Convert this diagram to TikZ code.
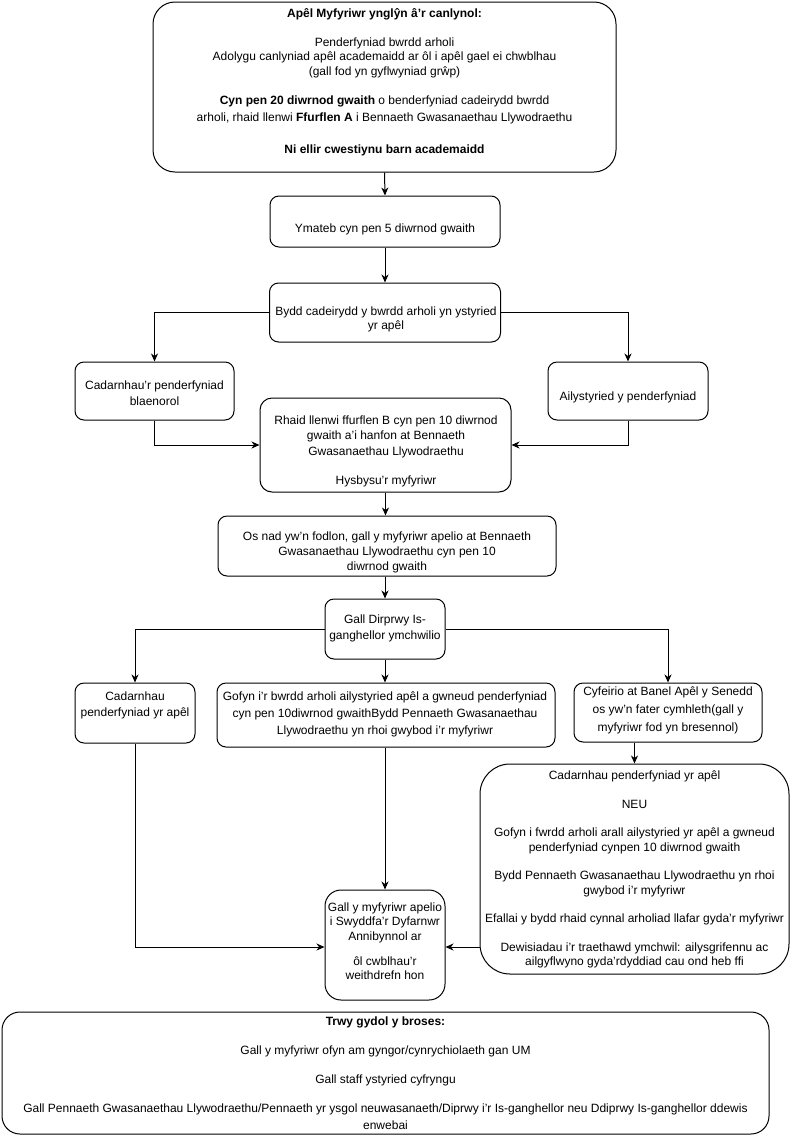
\documentclass[tikz,border=0pt]{standalone}
\usepackage{fontspec}
\setmainfont{Liberation Sans}
\usetikzlibrary{arrows.meta}
\begin{document}
\begin{tikzpicture}[x=1pt,y=-1pt,
  box/.style={draw, line width=1pt, rounded corners=9pt, inner sep=0pt},
  txt/.style={align=center, inner sep=0pt, font=\fontsize{12}{14.5}\selectfont},
  arr/.style={draw, line width=1pt, -{Stealth[length=8pt,width=7pt,inset=2.5pt]}}]
\useasboundingbox (0,0) rectangle (790,1136);

% boxes
\node[box, rounded corners=22pt, minimum width=463pt, minimum height=170pt] (appeal) at (384.5,87) {};
\node[box, minimum width=230pt, minimum height=51pt] (respond) at (385,221.5) {};
\node[box, minimum width=231pt, minimum height=59pt] (consider) at (385,312.5) {};
\node[box, minimum width=159pt, minimum height=58pt] (confirm) at (154.5,391) {};
\node[box, minimum width=160pt, minimum height=58pt] (recon) at (628,391) {};
\node[box, rounded corners=12pt, minimum width=251pt, minimum height=94pt] (formb) at (385.5,445) {};
\node[box, minimum width=338pt, minimum height=60pt] (notsat) at (387,546) {};
\node[box, minimum width=120pt, minimum height=60pt] (dvc) at (385,629) {};
\node[box, minimum width=120pt, minimum height=60pt] (confirmb) at (135,713) {};
\node[box, minimum width=338pt, minimum height=64pt] (ask) at (386,715) {};
\node[box, minimum width=188pt, minimum height=59pt] (refer) at (668,712.5) {};
\node[box, rounded corners=30pt, minimum width=309pt, minimum height=210pt] (outcome) at (634.5,869) {};
\node[box, rounded corners=16pt, minimum width=120pt, minimum height=110pt] (oia) at (385,945) {};
\node[box, rounded corners=18pt, minimum width=767pt, minimum height=122pt] (through) at (385.5,1073) {};

% texts
\node[txt] (appealtxt) at (384.5,82) {\textbf{Apêl Myfyriwr ynglŷn â’r canlynol:}\\[14.5pt]
Penderfyniad bwrdd arholi\\
Adolygu canlyniad apêl academaidd ar ôl i apêl gael ei chwblhau\\
(gall fod yn gyflwyniad grŵp)\\[14.5pt]
\textbf{Cyn pen 20 diwrnod gwaith} o benderfyniad cadeirydd bwrdd\\[2.5pt]
arholi, rhaid llenwi \textbf{Ffurflen A} i Bennaeth Gwasanaethau Llywodraethu\\[17.5pt]
\textbf{Ni ellir cwestiynu barn academaidd}};
\node[txt] (respondtxt) at (385,229) {Ymateb cyn pen 5 diwrnod gwaith};
\node[txt] (considertxt) at (386,319.5) {Bydd cadeirydd y bwrdd arholi yn ystyried\\ yr apêl};
\node[txt, font=\fontsize{12}{16}\selectfont] (confirmtxt) at (154.5,393) {Cadarnhau’r penderfyniad\\ blaenorol};
\node[txt] (recontxt) at (628,397) {Ailystyried y penderfyniad};
\node[txt, font=\fontsize{12}{15.5}\selectfont] (formbtxt) at (386,451.5) {Rhaid llenwi ffurflen B cyn pen 10 diwrnod\\ gwaith a’i hanfon at Bennaeth\\ Gwasanaethau Llywodraethu\\[14pt] Hysbysu’r myfyriwr};
\node[txt, font=\fontsize{12}{15}\selectfont] (notsattxt) at (387,552) {Os nad yw’n fodlon, gall y myfyriwr apelio at Bennaeth\\ Gwasanaethau Llywodraethu cyn pen 10\\ diwrnod gwaith};
\node[txt, font=\fontsize{12}{16}\selectfont] (dvctxt) at (385,628) {Gall Dirprwy Is-\\ganghellor ymchwilio};
\node[txt, font=\fontsize{12}{16}\selectfont] (confirmbtxt) at (135,705) {Cadarnhau\\ penderfyniad yr apêl};
\node[txt, font=\fontsize{12}{17}\selectfont] (asktxt) at (385,714) {Gofyn i’r bwrdd arholi ailystyried apêl a gwneud penderfyniad\\ cyn pen 10diwrnod gwaithBydd Pennaeth Gwasanaethau\\ Llywodraethu yn rhoi gwybod i’r myfyriwr};
\node[txt, font=\fontsize{12}{18}\selectfont] (refertxt) at (668,710) {Cyfeirio at Banel Apêl y Senedd\\ os yw’n fater cymhleth(gall y\\ myfyriwr fod yn bresennol)};
\node[txt] (outcometxt) at (634.5,869.5) {Cadarnhau penderfyniad yr apêl\\[14pt]
NEU\\[14pt]
Gofyn i fwrdd arholi arall ailystyried yr apêl a gwneud\\ penderfyniad cynpen 10 diwrnod gwaith\\[14pt]
Bydd Pennaeth Gwasanaethau Llywodraethu yn rhoi\\ gwybod i’r myfyriwr\\[14pt]
Efallai y bydd rhaid cynnal arholiad llafar gyda’r myfyriwr\\[14pt]
Dewisiadau i’r traethawd ymchwil: ailysgrifennu ac\\ ailgyflwyno gyda’rdyddiad cau ond heb ffi};
\node[txt] (oiatxt) at (385,941) {Gall y myfyriwr apelio\\ i Swyddfa’r Dyfarnwr\\ Annibynnol ar\\[10.5pt] ôl cwblhau’r\\ weithdrefn hon};
\node[txt, font=\fontsize{12}{15}\selectfont] (throughtxt) at (385.5,1073.5) {\textbf{Trwy gydol y broses:}\\[14pt]
Gall y myfyriwr ofyn am gyngor/cynrychiolaeth gan UM\\[14pt]
Gall staff ystyried cyfryngu\\[14pt]
Gall Pennaeth Gwasanaethau Llywodraethu/Pennaeth yr ysgol neuwasanaeth/Diprwy i’r Is-ganghellor neu Ddiprwy Is-ganghellor ddewis\\[2pt]
enwebai};

% connectors
\draw[arr] (appeal.south) -- (respond.north);
\draw[arr] (respond.south) -- (consider.north);
\draw[arr] (consider.west) -| (confirm.north);
\draw[arr] (consider.east) -| (recon.north);
\draw[arr] (confirm.south) |- (formb.west);
\draw[arr] (recon.south) |- (formb.east);
\draw[arr] (formb.south) -- (notsat.north -| formb.south);
\draw[arr] (notsat.south -| dvc.north) -- (dvc.north);
\draw[arr] (dvc.west) -| (confirmb.north);
\draw[arr] (dvc.south) -- (ask.north -| dvc.south);
\draw[arr] (dvc.east) -| (refer.north);
\draw[arr] (refer.south -| outcome.north) -- (outcome.north);
\draw[arr] (ask.south -| oia.north) -- (oia.north);
\draw[arr] (confirmb.south) |- ([yshift=-2pt]oia.west);
\draw[arr] ([yshift=-2pt]outcome.west |- oia.east) -- ([yshift=-2pt]oia.east);
\end{tikzpicture}
\end{document}
